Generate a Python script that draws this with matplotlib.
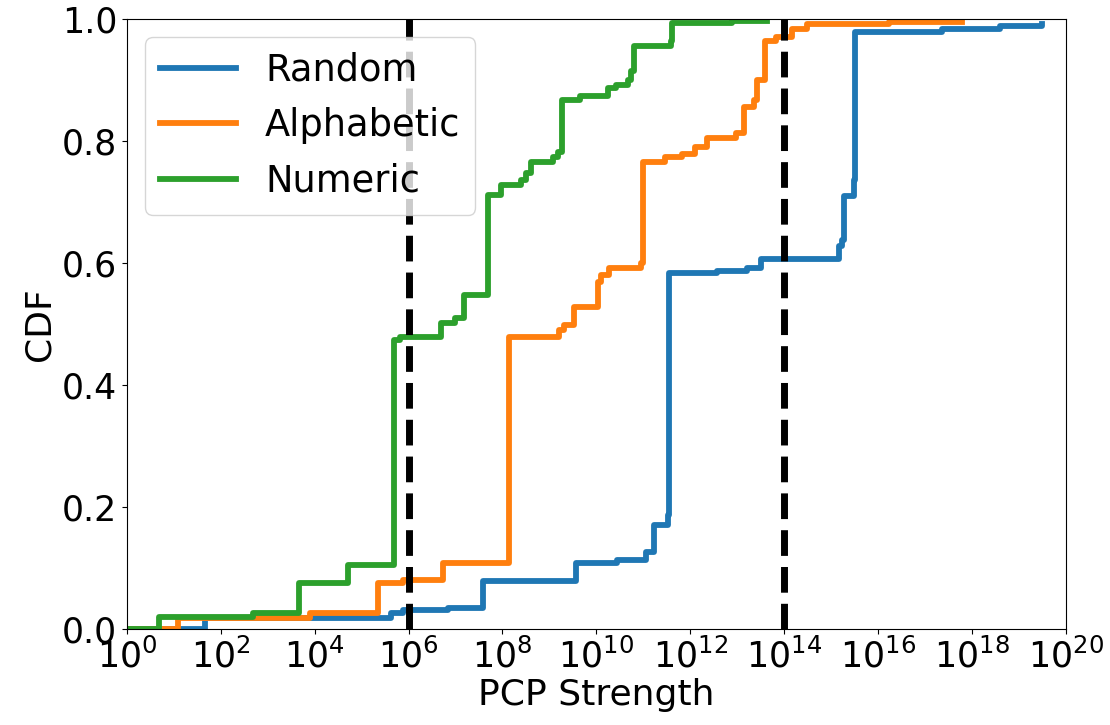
import numpy as np
import matplotlib
matplotlib.use("Agg")
import matplotlib.pyplot as plt

# step positions (PCP strength) and CDF levels after each step
random_x = [1e0, 4.6e1, 4.3e5, 7.6e5, 6.9e6, 3.8e7, 3.7e9, 2.8e10, 1.15e11, 1.7e11,
            3.3e11, 3.55e11, 3.8e12, 1.66e13, 3.16e13, 1.48e15, 1.74e15, 1.9e15,
            3.1e15, 3.3e15, 2.3e17, 4.0e18, 3.2e19]
random_y = [0.0, 0.018, 0.026, 0.031, 0.035, 0.078, 0.109, 0.113, 0.127, 0.170,
            0.187, 0.583, 0.587, 0.591, 0.607, 0.627, 0.638, 0.709, 0.736, 0.979,
            0.983, 0.988, 0.992]

alpha_x = [1e0, 1.2e1, 7.8e3, 2.2e5, 7.6e5, 5.4e6, 1.4e8, 1.6e9, 2.1e9, 3.4e9,
           1.07e10, 1.26e10, 1.9e10, 8.9e10, 9.8e10, 2.9e11, 6.8e11, 1.26e12,
           2.24e12, 9.3e12, 1.41e13, 2.3e13, 2.7e13, 3.9e13, 6.6e13, 1.5e14,
           3.16e14, 1.7e16, 6.3e17]
alpha_y = [0.0, 0.018, 0.027, 0.076, 0.080, 0.108, 0.478, 0.490, 0.498, 0.528,
           0.569, 0.580, 0.591, 0.600, 0.766, 0.774, 0.779, 0.790, 0.804, 0.813,
           0.856, 0.867, 0.900, 0.963, 0.971, 0.984, 0.991, 0.995, 0.995]

numeric_x = [1e0, 4.9e0, 4.9e2, 4.6e3, 5.0e4, 4.8e5, 6.5e5, 4.8e6, 1.0e7, 1.55e7,
             4.9e7, 9.3e7, 2.5e8, 3.16e8, 4.1e8, 1.17e9, 1.5e9, 1.9e9, 4.4e9,
             1.74e10, 2.6e10, 4.7e10, 5.5e10, 6.5e10, 3.9e11, 4.2e11, 7.9e12,
             4.4e13]
numeric_y = [0.0, 0.020, 0.027, 0.076, 0.105, 0.474, 0.479, 0.501, 0.509, 0.548,
             0.711, 0.728, 0.736, 0.747, 0.766, 0.774, 0.782, 0.867, 0.874, 0.886,
             0.892, 0.900, 0.914, 0.956, 0.963, 0.994, 0.996, 0.996]

thresholds = [1e6, 1e14]

series = [("Random", random_x, random_y, "#1f77b4"),
          ("Alphabetic", alpha_x, alpha_y, "#ff7f0e"),
          ("Numeric", numeric_x, numeric_y, "#2ca02c")]

fig = plt.figure(figsize=(11.1, 7.25), dpi=100)
ax = fig.add_axes([0.1144, 0.1324, 0.8456, 0.8416])

for name, xs, ys, c in series:
    ax.plot(xs, ys, drawstyle="steps-post", color=c, lw=4.2, label=name)

for t in thresholds:
    ax.axvline(t, color="black", ls="--", lw=5)

ax.set_xscale("log")
ax.set_xlim(1e0, 1e20)
ax.set_ylim(0, 1)
ax.set_xticks([10.0 ** k for k in range(0, 21, 2)])
ax.xaxis.set_minor_locator(matplotlib.ticker.NullLocator())
ax.set_yticks([0.0, 0.2, 0.4, 0.6, 0.8, 1.0])
ax.tick_params(labelsize=25)
ax.set_xlabel("PCP Strength", fontsize=26, labelpad=2)
ax.set_ylabel("CDF", fontsize=26)
ax.legend(loc="upper left", fontsize=26.5, handlelength=2.05)

fig.savefig("out.png", dpi=100)
